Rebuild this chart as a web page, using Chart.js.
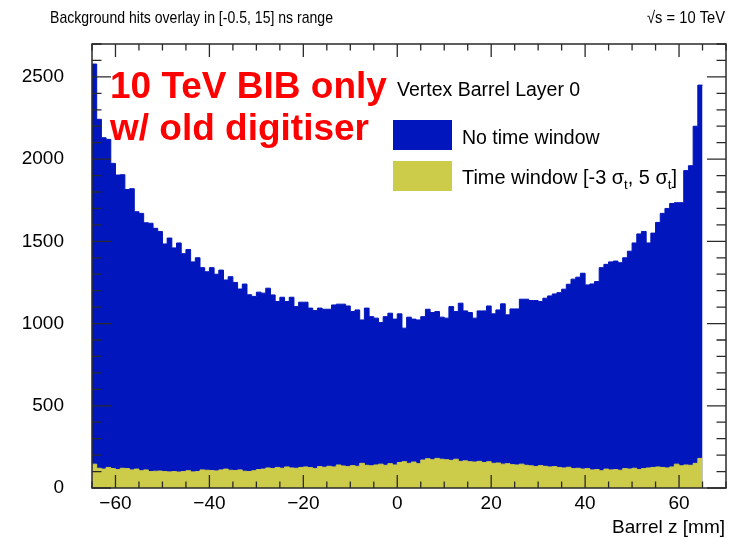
<!DOCTYPE html>
<html>
<head>
<meta charset="utf-8">
<script src="https://cdn.jsdelivr.net/npm/chart.js@4.4.1/dist/chart.umd.min.js"></script>
<style>
  html, body { margin: 0; padding: 0; background: #fff; }
  #wrap { width: 735px; height: 538px; }
</style>
</head>
<body>
<div id="wrap"><canvas id="graph1" width="735" height="538"></canvas></div>
<script>
// histogram bins: 1 mm wide, first low edge at -65 mm
var zLow = -65;
var binWidth = 1;

// No time window (blue)
var noTimeWindow = [
  2578, 2242, 2130, 2120, 1974, 1903, 1905, 1815, 1820, 1680,
  1670, 1613, 1610, 1579, 1560, 1484, 1520, 1460, 1490, 1425,
  1450, 1375, 1400, 1340, 1315, 1340, 1300, 1325, 1265, 1285,
  1250, 1210, 1240, 1175, 1165, 1191, 1185, 1215, 1174, 1134,
  1160, 1134, 1160, 1103, 1130, 1130, 1094, 1079, 1094, 1087,
  1087, 1113, 1118, 1118, 1107, 1073, 1083, 1022, 1094, 1042,
  1033, 1006, 1042, 1063, 1027, 1059,  972, 1039, 1027, 1022,
  1042, 1087, 1067, 1073, 1039, 1033, 1103, 1073, 1124, 1077,
  1067, 1033, 1077, 1077, 1107, 1059, 1083, 1120, 1053, 1089,
  1089, 1148, 1148, 1140, 1140, 1134, 1154, 1168, 1180, 1188,
  1209, 1239, 1270, 1282, 1306, 1235, 1241, 1255, 1340, 1360,
  1375, 1380, 1370, 1400, 1440, 1490, 1545, 1560, 1490, 1550,
  1615, 1670, 1700, 1730, 1735, 1735, 1930, 1960, 2200, 2450
];

// Time window [-3 sigma_t, 5 sigma_t] (yellow)
var timeWindow = [
  145, 120, 115, 125, 118, 112, 120, 118, 110, 115,
  105, 110, 100, 102, 103, 100,  98, 100,  97, 100,
  105,  98, 100, 110, 108, 106, 104, 110, 115, 108,
  106, 110, 102, 100, 105, 112, 115, 122, 118, 125,
  120, 128, 122, 120, 125, 128, 124, 118, 130, 126,
  132, 128, 140, 134, 130, 136, 132, 150, 138, 135,
  140, 145, 138, 148, 140, 155, 160, 150, 158, 148,
  170, 178, 172, 180, 175, 172, 168, 175, 162, 165,
  160, 158, 162, 155, 160, 150, 152, 145, 148, 142,
  140, 145, 138, 135, 130, 136, 132, 128, 130, 125,
  122, 126, 118, 120, 115, 118, 110, 112, 105, 115,
  110, 112, 108, 118, 115, 120, 112, 118, 122, 125,
  128, 125, 122, 128, 145, 135, 140, 138, 150, 180
];

var xTicks = [-60, -40, -20, 0, 20, 40, 60];
var yTicks = [0, 500, 1000, 1500, 2000, 2500];

var blue = 'rgb(2, 22, 190)';
var yellow = 'rgb(205, 203, 74)';
var font = '"Liberation Sans", Arial, Helvetica, sans-serif';

// turn bin contents into step points (low edges + closing edge)
function toSteps(values) {
  var pts = [];
  for (var i = 0; i < values.length; i++) {
    pts.push({ x: zLow + i * binWidth, y: values[i] });
  }
  pts.push({ x: zLow + values.length * binWidth, y: values[values.length - 1] });
  return pts;
}

// text squeezed/stretched to a given width (left edge x)
function fitText(ctx, text, x, y, width) {
  var w = ctx.measureText(text).width;
  ctx.save();
  ctx.translate(x, y);
  ctx.scale(width / w, 1);
  ctx.textAlign = 'left';
  ctx.fillText(text, 0, 0);
  ctx.restore();
}

function richText(ctx, parts, x, y, size, width) {
  var big = size + 'px ' + font;
  var small = Math.round(size * 0.68) + 'px ' + font;
  var total = 0;
  parts.forEach(function (p) {
    ctx.font = p.sub ? small : big;
    total += ctx.measureText(p.t).width;
  });
  ctx.save();
  ctx.translate(x, y);
  ctx.scale(width / total, 1);
  var cx = 0;
  parts.forEach(function (p) {
    ctx.font = p.sub ? small : big;
    ctx.fillText(p.t, cx, p.sub ? size * 0.28 : 0);
    cx += ctx.measureText(p.t).width;
  });
  ctx.restore();
}

// ROOT style frame, inner ticks, labels and texts
var rootFrame = {
  id: 'rootFrame',
  afterDatasetsDraw: function (chart) {
    var ctx = chart.ctx;
    var a = chart.chartArea;
    var xs = chart.scales.x;
    var ys = chart.scales.y;
    ctx.save();
    ctx.strokeStyle = '#2a2a2a';
    ctx.lineWidth = 1.5;
    ctx.strokeRect(a.left, a.top, a.right - a.left, a.bottom - a.top);

    ctx.lineWidth = 1.3;
    ctx.beginPath();
    for (var v = -65; v <= 70; v += 5) {
      var px = xs.getPixelForValue(v);
      var len = (v % 20 === 0) ? 13 : 6.5;
      ctx.moveTo(px, a.bottom); ctx.lineTo(px, a.bottom - len);
      ctx.moveTo(px, a.top); ctx.lineTo(px, a.top + len);
    }
    for (var w = 0; w <= 2700; w += 100) {
      var py = ys.getPixelForValue(w);
      var l2 = (w % 500 === 0) ? 19 : 9.5;
      ctx.moveTo(a.left, py); ctx.lineTo(a.left + l2, py);
      ctx.moveTo(a.right, py); ctx.lineTo(a.right - l2, py);
    }
    ctx.stroke();

    ctx.fillStyle = '#000';
    ctx.font = '19px ' + font;
    ctx.textAlign = 'center';
    ctx.textBaseline = 'alphabetic';
    xTicks.forEach(function (t) {
      var lab = t < 0 ? '\u2212' + Math.abs(t) : String(t);
      ctx.fillText(lab, xs.getPixelForValue(t), 509);
    });
    ctx.textAlign = 'right';
    ctx.textBaseline = 'middle';
    yTicks.forEach(function (t) {
      ctx.fillText(String(t), 64, ys.getPixelForValue(t));
    });

    ctx.textBaseline = 'alphabetic';
    ctx.fillText('Barrel z [mm]', 725, 533);

    ctx.font = '17px ' + font;
    fitText(ctx, 'Background hits overlay in [-0.5, 15] ns range', 50, 23, 283);
    fitText(ctx, '\u221As = 10 TeV', 647, 23, 78);

    ctx.textAlign = 'left';
    ctx.fillStyle = '#ff0000';
    ctx.font = 'bold 37px ' + font;
    ctx.fillText('10 TeV BIB only', 110, 98);
    ctx.fillText('w/ old digitiser', 110, 140);

    ctx.fillStyle = '#000';
    ctx.font = '19.5px ' + font;
    ctx.fillText('Vertex Barrel Layer 0', 397, 96);

    ctx.fillStyle = blue;
    ctx.fillRect(393, 120, 59, 30);
    ctx.fillStyle = yellow;
    ctx.fillRect(393, 161, 59, 30);
    ctx.fillStyle = '#000';
    ctx.font = '19.5px ' + font;
    ctx.fillText('No time window', 462, 144);
    richText(ctx, [
      { t: 'Time window [-3 ' }, { t: '\u03C3' }, { t: 't', sub: true },
      { t: ', 5 ' }, { t: '\u03C3' }, { t: 't', sub: true }, { t: ']' }
    ], 462, 184, 19.5, 215);
    ctx.restore();
  }
};

var histConfig = {
  type: 'line',
  data: {
    datasets: [
      {
        label: 'No time window',
        data: toSteps(noTimeWindow),
        stepped: 'before',
        fill: 'origin',
        backgroundColor: blue,
        borderColor: blue,
        borderWidth: 1,
        pointRadius: 0,
        order: 2
      },
      {
        label: 'Time window',
        data: toSteps(timeWindow),
        stepped: 'before',
        fill: 'origin',
        backgroundColor: yellow,
        borderColor: yellow,
        borderWidth: 1,
        pointRadius: 0,
        order: 1
      }
    ]
  },
  options: {
    responsive: false,
    animation: false,
    devicePixelRatio: 1,
    layout: { padding: { left: 92, right: 9, top: 44, bottom: 50 } },
    plugins: {
      legend: { display: false },
      tooltip: { enabled: false }
    },
    scales: {
      x: { type: 'linear', min: -65, max: 70, display: false },
      y: { type: 'linear', min: 0, max: 2700, display: false }
    }
  },
  plugins: [rootFrame]
};

var myChart = new Chart(document.getElementById('graph1'), histConfig);
</script>
</body>
</html>
